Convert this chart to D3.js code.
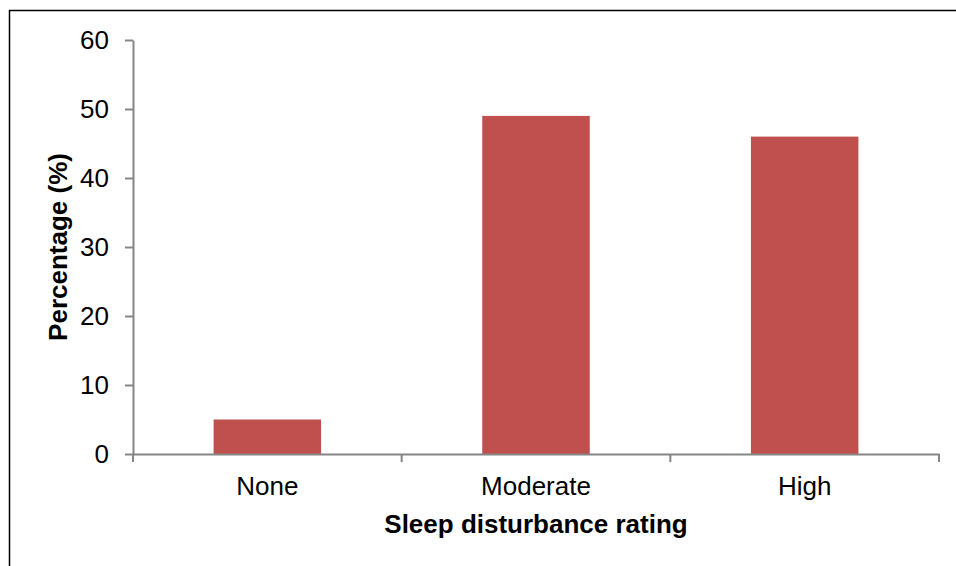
<!DOCTYPE html>
<html>
<head>
<meta charset="utf-8">
<script src="https://cdn.jsdelivr.net/npm/d3@7"></script>
<style>
  body { margin: 0; background: #fff; }
  svg { display: block; font-family: "Liberation Sans", Arial, sans-serif; }
</style>
</head>
<body>
<svg></svg>
<script>
  // data
  let categories = ['None', 'Moderate', 'High']
  let percentages = [5, 49, 46]
  let yTicks = [0, 10, 20, 30, 40, 50, 60]

  let svgWidth = 956, svgHeight = 566
  let margin = { left: 133, right: 17, top: 40, bottom: 112 }
  let fontSize = 26

  let svg = d3.select('svg')
    .attr('width', svgWidth)
    .attr('height', svgHeight)

  // outer frame, runs off the right and bottom edge
  svg.append('rect')
    .attr('x', 9.5).attr('y', 10.5)
    .attr('width', 960).attr('height', 570)
    .attr('fill', 'none')
    .attr('stroke', '#000')
    .attr('stroke-width', 1.5)

  let x = d3.scaleBand()
    .domain(categories)
    .range([margin.left, svgWidth - margin.right])
    .paddingInner(0.6)
    .paddingOuter(0.3)

  let y = d3.scaleLinear()
    .domain([0, 60])
    .range([svgHeight - margin.bottom, margin.top])

  // bars
  svg.selectAll('rect.bar')
    .data(percentages)
    .enter()
    .append('rect')
    .attr('class', 'bar')
    .attr('x', (d, i) => x(categories[i]))
    .attr('y', d => y(d))
    .attr('width', x.bandwidth())
    .attr('height', d => y(0) - y(d))
    .attr('fill', '#C0504D')

  // y axis
  let yAxis = svg.append('g')
    .attr('transform', `translate(${margin.left},0)`)
    .call(d3.axisLeft(y).tickValues(yTicks).tickSize(8).tickPadding(16).tickSizeOuter(0))
  yAxis.attr('font-size', null).attr('font-family', null)
  yAxis.select('.domain').attr('stroke', '#868686').attr('stroke-width', 2)
  yAxis.selectAll('.tick line').attr('stroke', '#868686').attr('stroke-width', 2)
  yAxis.selectAll('.tick text').style('font-size', fontSize + 'px').attr('fill', '#000')

  // x axis, ticks between categories
  let plotRight = svgWidth - margin.right
  let bandStep = (plotRight - margin.left) / categories.length
  let xAxis = svg.append('g')
    .attr('transform', `translate(0,${y(0)})`)
    .call(d3.axisBottom(x).tickSize(0))
  xAxis.attr('font-size', null).attr('font-family', null)
  xAxis.select('.domain').attr('stroke', '#868686').attr('stroke-width', 2)
  xAxis.selectAll('.tick text')
    .attr('y', 41).attr('dy', 0)
    .style('font-size', fontSize + 'px').attr('fill', '#000')
  xAxis.selectAll('line.sep')
    .data(d3.range(categories.length + 1))
    .enter()
    .append('line')
    .attr('class', 'sep')
    .attr('x1', i => margin.left + i * bandStep)
    .attr('x2', i => margin.left + i * bandStep)
    .attr('y1', 0).attr('y2', 8)
    .attr('stroke', '#868686')
    .attr('stroke-width', 2)

  // axis titles
  svg.append('text')
    .attr('x', (margin.left + plotRight) / 2)
    .attr('y', 533)
    .attr('text-anchor', 'middle')
    .style('font-size', fontSize + 'px')
    .attr('font-weight', 'bold')
    .text('Sleep disturbance rating')

  svg.append('text')
    .attr('transform', `translate(67,${y(30)}) rotate(-90)`)
    .attr('text-anchor', 'middle')
    .style('font-size', fontSize + 'px')
    .attr('font-weight', 'bold')
    .text('Percentage (%)')
</script>
</body>
</html>
